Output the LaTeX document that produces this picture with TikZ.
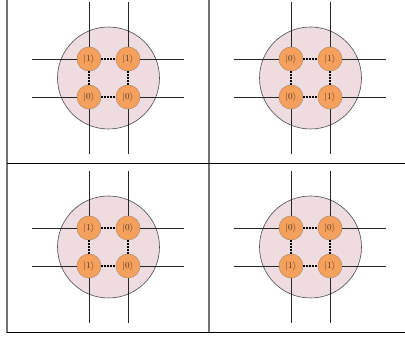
\documentclass[tikz,border=0pt]{standalone}
\usepackage{amsmath}
\definecolor{qorange}{HTML}{F5A05C}
\definecolor{qpink}{HTML}{EFDCE1}
\definecolor{qedge}{HTML}{B8906A}
\definecolor{qtext}{HTML}{4A3020}
\tikzset{
  bigc/.style={circle, minimum size=102pt, inner sep=0pt, fill=qpink, draw=black!70, line width=0.6pt},
  qb/.style={circle, minimum size=24pt, inner sep=0pt, fill=qorange, draw=qedge, line width=0.6pt, font=\small, text=qtext},
  wire/.style={draw=black!85, line width=0.7pt},
  dots/.style={draw=black, line width=1.4pt, dash pattern=on 1.4pt off 1.6pt},
  vrule/.style={draw=black!55, line width=1.5pt},
  hrule/.style={draw=black, line width=1pt}
}
\newcommand\qcell[7]{%
\begin{scope}[shift={(#1,#2)}]
\node[bigc] (#3c) at (108.5,78) {};
\coordinate (#3l1) at (32,59);  \coordinate (#3r1) at (184,59);
\coordinate (#3l2) at (32,97);  \coordinate (#3r2) at (184,97);
\coordinate (#3t1) at (89,2);   \coordinate (#3b1) at (89,154);
\coordinate (#3t2) at (128,2);  \coordinate (#3b2) at (128,154);
\node[qb] (#3a) at (89,59) {$|#4\rangle$};
\node[qb] (#3b) at (128,59) {$|#5\rangle$};
\node[qb] (#3d) at (89,97) {$|#6\rangle$};
\node[qb] (#3e) at (128,97) {$|#7\rangle$};
\draw[wire] (#3l1) -- (#3a.west);
\draw[wire] (#3b.east) -- (#3r1);
\draw[wire] (#3l2) -- (#3d.west);
\draw[wire] (#3e.east) -- (#3r2);
\draw[wire] (#3t1) -- (#3a.north);
\draw[wire] (#3t2) -- (#3b.north);
\draw[wire] (#3d.south) -- (#3b1);
\draw[wire] (#3e.south) -- (#3b2);
\draw[dots] (#3a.east) -- (#3b.west);
\draw[dots] (#3d.east) -- (#3e.west);
\draw[dots] (#3a.south) -- (#3d.north);
\draw[dots] (#3b.south) -- (#3e.north);
\end{scope}}
\begin{document}
\begin{tikzpicture}[x=1pt,y=-1pt]
\useasboundingbox (0,0) rectangle (405,344);
\coordinate (v1t) at (7,0);   \coordinate (v1b) at (7,333.5);
\coordinate (v2t) at (209,0); \coordinate (v2b) at (209,333);
\coordinate (h1l) at (7,164); \coordinate (h1r) at (405,164);
\coordinate (h2l) at (7,333); \coordinate (h2r) at (405,333);
\draw[vrule] (v1t) -- (v1b);
\draw[vrule] (v2t) -- (v2b);
\draw[hrule] (h1l) -- (h1r);
\draw[hrule] (h2l) -- (h2r);
\qcell{0}{0}{tl}{1}{1}{0}{0}
\qcell{202}{0}{tr}{0}{1}{0}{1}
\qcell{0}{169}{bl}{1}{0}{1}{0}
\qcell{202}{169}{br}{0}{0}{1}{1}
\end{tikzpicture}
\end{document}
